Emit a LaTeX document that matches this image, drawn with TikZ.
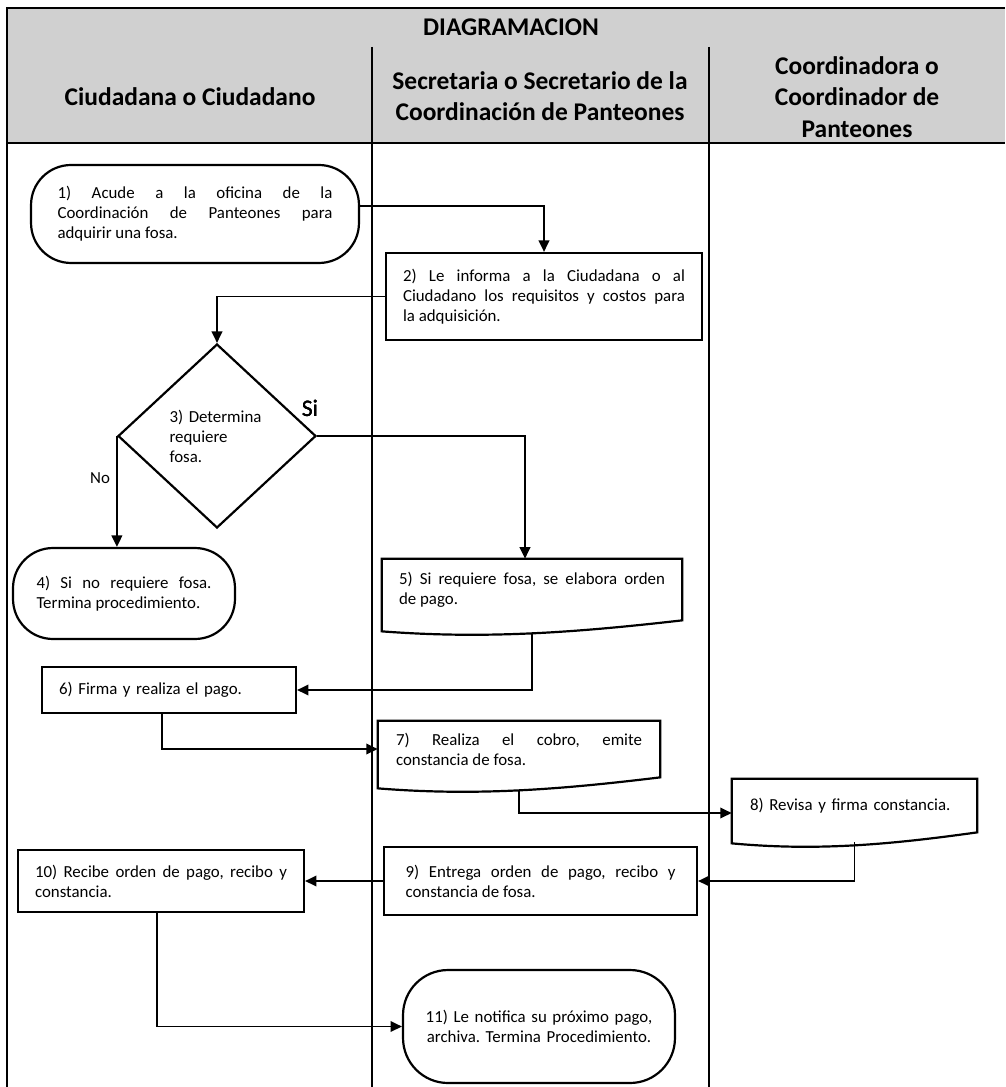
\documentclass[tikz,border=0pt]{standalone}
\usepackage{fontspec}
\setmainfont{Carlito}
\usetikzlibrary{arrows.meta,calc,shapes.geometric}
\definecolor{hdrgray}{RGB}{208,208,208}
\hyphenpenalty=10000 \exhyphenpenalty=10000
\frenchspacing
\newcommand{\docoutline}[1]{\draw[line width=1.25pt] ([yshift=-0.22cm]#1.south west) -- (#1.north west) -- (#1.north east) -- (#1.south east) .. controls ($(#1.south west)!0.65!(#1.south east)+(0,-0.24cm)$) and ($(#1.south west)!0.35!(#1.south east)+(0,-0.38cm)$) .. ([yshift=-0.22cm]#1.south west) -- cycle;}
\begin{document}
\begin{tikzpicture}[x=0.02cm,y=-0.02cm,
  every node/.style={font=\fontsize{9.6}{11.4}\selectfont},
  hdr/.style={font=\fontsize{14.5}{18}\selectfont\bfseries,align=center},
  termbox/.style={draw,line width=1.25pt,rounded corners=0.8cm,align=justify,inner sep=0pt},
  procbox/.style={draw,line width=1.25pt,align=justify,inner sep=0pt},
  docbox/.style={align=justify,inner sep=0pt},
  decbox/.style={draw,diamond,line width=1.25pt,align=left,inner sep=0pt},
  flow/.style={line width=1.1pt,-{Triangle[length=6.5pt,width=6pt]}}]
\useasboundingbox (0,0) rectangle (1005,1087);
\fill[hdrgray] (7,8) rectangle (1005,143);
\draw[line width=0.6pt] (1005,8) -- (7,8) -- (7,1087);
\draw[line width=0.6pt] (7,143) -- (1005,143);
\foreach \x in {372,709} \draw[line width=0.6pt] (\x,47) -- (\x,1087);
\node[hdr] (title) at (511,27) {DIAGRAMACION};
\node[hdr] (laneA) at (190,97) {Ciudadana o Ciudadano};
\node[hdr] (laneB) at (540,96) {Secretaria o Secretario de la\\Coordinación de Panteones};
\node[hdr] (laneC) at (857,97) {Coordinadora o\\Coordinador de\\Panteones};

\node[termbox,text width=5.5cm,minimum width=6.56cm,minimum height=1.96cm] (n1) at (195,214) {1) Acude a la oficina de la\linebreak Coordinación de Panteones para\linebreak adquirir una fosa.};
\node[procbox,text width=5.64cm,minimum width=6.32cm,minimum height=1.74cm] (n2) at (544,296.5) {2) Le informa a la Ciudadana o al\linebreak Ciudadano los requisitos y costos para\linebreak la adquisición.};
\node[decbox,text width=1.9cm,minimum width=3.96cm,minimum height=3.68cm] (n3) at (217,436) {3) Determina\\requiere\\fosa.};
\node[termbox,text width=3.5cm,minimum width=4.44cm,minimum height=1.82cm] (n4) at (124,593.5) {4) Si no requiere fosa.\linebreak Termina procedimiento.};
\node[docbox,text width=5.32cm,minimum width=6cm,minimum height=1.22cm] (n5) at (532,589.5) {5) Si requiere fosa, se elabora orden\linebreak de pago.};
\node[procbox,align=left,text width=4.4cm,minimum width=5.08cm,minimum height=0.92cm] (n6) at (169,690) {6) Firma y realiza el pago.};
\node[docbox,text width=4.92cm,minimum width=5.64cm,minimum height=1.12cm] (n7) at (519,749) {7) Realiza el cobro, emite\linebreak constancia de fosa.};
\node[docbox,align=left,text width=4.18cm,minimum width=4.9cm,minimum height=1.06cm] (n8) at (854.5,805.5) {8) Revisa y firma constancia.};
\node[procbox,text width=5.4cm,minimum width=6.26cm,minimum height=1.36cm] (n9) at (540.5,881) {9) Entrega orden de pago, recibo y\linebreak constancia de fosa.};
\node[procbox,text width=5.04cm,minimum width=5.72cm,minimum height=1.24cm] (n10) at (161,881) {10) Recibe orden de pago, recibo y\linebreak constancia.};
\node[termbox,align=center,rounded corners=0.9cm,text width=5cm,minimum width=5.44cm,minimum height=2.26cm] (n11) at (539,1026.5) {11) Le notifica su próximo pago,\\archiva. Termina Procedimiento.};
\foreach \d in {n5,n7,n8} \docoutline{\d}
\node[font=\fontsize{13.5}{16}\selectfont] (si) at (310,408) {Si};
\node (no) at (100,478) {No};

\draw[flow] ([yshift=0.16cm]n1.east) -| (n2.north);
\draw[flow] (n2.west) -| (n3.north);
\draw[flow] (n3.west) -- (n3.west |- n4.north);
\draw[flow] (n3.east) -| ([xshift=-0.14cm]n5.north);
\draw[flow] ([yshift=-0.26cm]n5.south) |- (n6.east);
\draw[flow] ([xshift=-0.14cm]n6.south) |- (n7.west);
\draw[flow] ([yshift=-0.26cm]n7.south) |- ([yshift=-0.15cm]n8.west);
\draw[flow] ([yshift=-0.2cm]n8.south) |- (n9.east);
\draw[flow] (n9.west) -- (n10.east);
\draw[flow] ([xshift=-0.08cm]n10.south) |- (n11.west);
\end{tikzpicture}
\end{document}
